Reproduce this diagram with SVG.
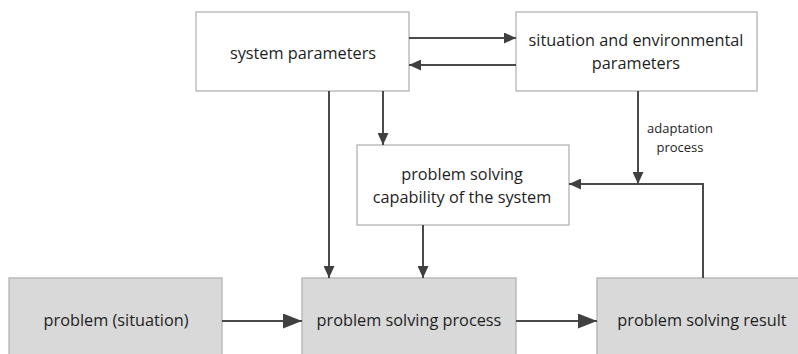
<svg xmlns="http://www.w3.org/2000/svg" width="798" height="354" viewBox="0 0 798 354">
<defs>
<style>
.box{fill:#ffffff;stroke:#b3b3b3;stroke-width:1.3}
.gbox{fill:#d9d9d9;stroke:#b3b3b3;stroke-width:1.3}
.t{font-family:"Open Sans","Liberation Sans",sans-serif;font-size:16.3px;fill:#1e1e1e;text-anchor:middle}
.s{font-family:"Open Sans","Liberation Sans",sans-serif;font-size:13px;fill:#1e1e1e;text-anchor:middle}
.c{fill:none;stroke:#4a4a4a;stroke-width:2}
</style>
<marker id="ah" viewBox="0 0 10 10" refX="10" refY="5" markerWidth="6" markerHeight="5.5" markerUnits="strokeWidth" orient="auto" preserveAspectRatio="none">
<path d="M0,0 L10,5 L0,10 z" fill="#404040"/>
</marker>
<marker id="big" viewBox="0 0 10 10" refX="10" refY="5" markerWidth="9.5" markerHeight="7.5" markerUnits="strokeWidth" orient="auto" preserveAspectRatio="none">
<path d="M0,0 L10,5 L0,10 z" fill="#404040"/>
</marker>
</defs>
<rect width="798" height="354" fill="#ffffff"/>
<g id="sysparams">
<rect class="box" x="196" y="12" width="213" height="79"/>
<text class="t" x="303" y="59">system parameters</text>
</g>
<g id="envparams">
<rect class="box" x="516" y="12" width="241" height="79"/>
<text class="t" x="636" y="46">situation and environmental</text>
<text class="t" x="636" y="69">parameters</text>
</g>
<g id="capability">
<rect class="box" x="357" y="145" width="212" height="80"/>
<text class="t" x="462" y="180">problem solving</text>
<text class="t" x="462" y="203">capability of the system</text>
</g>
<g id="problem">
<rect class="gbox" x="9" y="278" width="213" height="90"/>
<text class="t" x="116" y="326">problem (situation)</text>
</g>
<g id="process">
<rect class="gbox" x="302" y="278" width="214" height="90"/>
<text class="t" x="409" y="326">problem solving process</text>
</g>
<g id="result">
<rect class="gbox" x="597" y="278" width="210" height="90"/>
<text class="t" x="702" y="326">problem solving result</text>
</g>
<g id="connectors">
<line class="c" x1="409" y1="38" x2="516" y2="38" marker-end="url(#ah)"/>
<line class="c" x1="516" y1="65" x2="409" y2="65" marker-end="url(#ah)"/>
<line class="c" x1="329" y1="91" x2="329" y2="278" marker-end="url(#ah)"/>
<line class="c" x1="383" y1="91" x2="383" y2="145" marker-end="url(#ah)"/>
<line class="c" x1="423" y1="225" x2="423" y2="278" marker-end="url(#ah)"/>
<line class="c" x1="638" y1="91" x2="638" y2="184" marker-end="url(#ah)"/>
<polyline class="c" points="703,278 703,184 569,184" marker-end="url(#ah)"/>
<line class="c" x1="222" y1="321" x2="302" y2="321" marker-end="url(#big)"/>
<line class="c" x1="516" y1="321" x2="597" y2="321" marker-end="url(#big)"/>
<text class="s" x="680" y="133">adaptation</text>
<text class="s" x="680" y="152">process</text>
</g>
</svg>
